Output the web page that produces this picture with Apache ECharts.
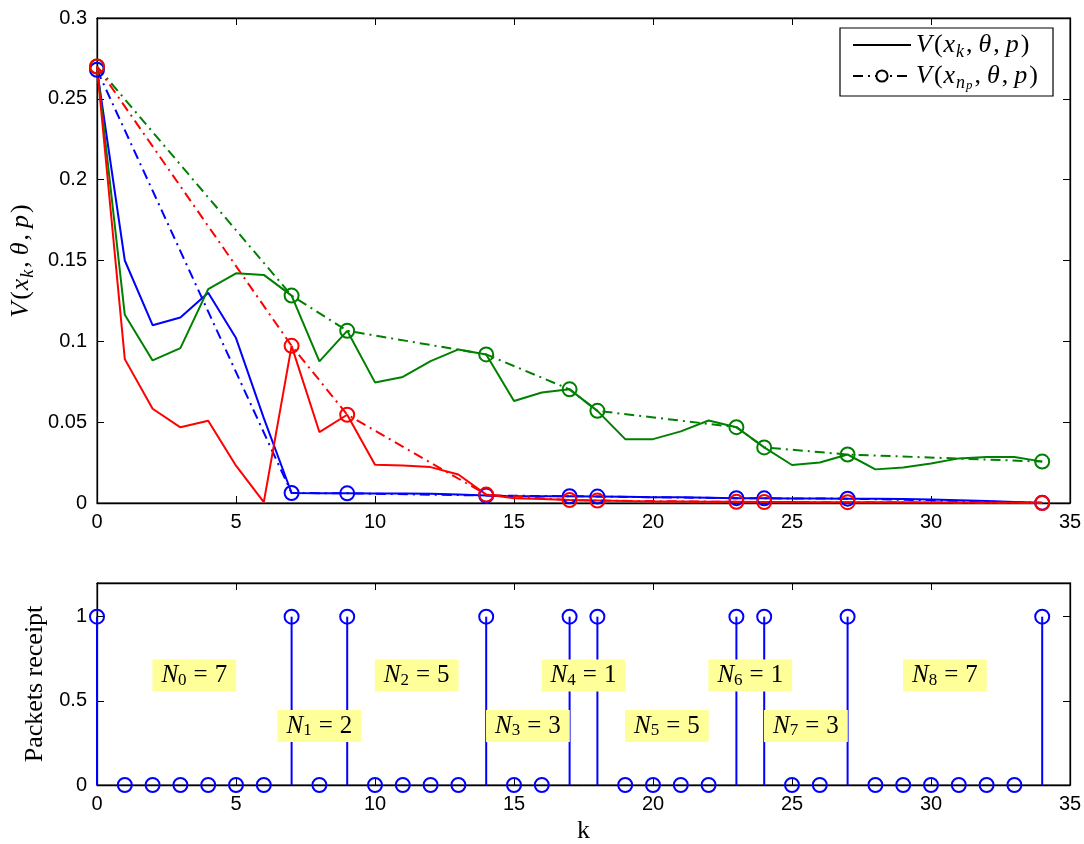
<!DOCTYPE html>
<html>
<head>
<meta charset="utf-8">
<script src="https://cdn.jsdelivr.net/npm/echarts@6/dist/echarts.min.js"></script>
<style>
  html, body { margin: 0; padding: 0; background: #fff; }
  #chart { width: 1084px; height: 844px; }
</style>
</head>
<body>
<div id="chart"></div>
<script>
// time steps k
const kSteps = [0, 1, 2, 3, 4, 5, 6, 7, 8, 9, 10, 11, 12, 13, 14, 15, 16, 17, 18, 19, 20,
  21, 22, 23, 24, 25, 26, 27, 28, 29, 30, 31, 32, 33, 34];
// steps where a packet was received
const packetTimes = [0, 7, 9, 14, 17, 18, 23, 24, 27, 34];
const packetReceipt = [1, 0, 0, 0, 0, 0, 0, 1, 0, 1, 0, 0, 0, 0, 1, 0, 0, 1, 1, 0, 0, 0, 0, 1, 1,
  0, 0, 1, 0, 0, 0, 0, 0, 0, 1];

// V(x_k, theta, p)
const blueVk = [0.268, 0.150, 0.110, 0.1147, 0.130, 0.102, 0.0525, 0.0062, 0.0061, 0.0060, 0.0059,
  0.0058, 0.0057, 0.0052, 0.0046, 0.0042, 0.0041, 0.0042, 0.0040, 0.0038, 0.0036, 0.0035, 0.0033,
  0.0030, 0.0029, 0.0028, 0.0028, 0.0027, 0.0026, 0.0025, 0.0022, 0.0017, 0.0012, 0.0006, 0.0001];
const greenVk = [0.270, 0.1164, 0.0882, 0.0958, 0.1323, 0.1421, 0.1411, 0.1283, 0.0876, 0.1065,
  0.0746, 0.0780, 0.0878, 0.0950, 0.0919, 0.0631, 0.0683, 0.0703, 0.0570, 0.0395, 0.0395, 0.0443,
  0.0510, 0.0469, 0.0344, 0.0235, 0.0250, 0.0300, 0.0208, 0.0219, 0.0245, 0.0276, 0.0284, 0.0284, 0.0256];
const redVk = [0.270, 0.089, 0.0583, 0.0468, 0.0509, 0.0231, 0.0005, 0.0972, 0.0439, 0.0546, 0.0237,
  0.0232, 0.0222, 0.0176, 0.0052, 0.0030, 0.0025, 0.0018, 0.0015, 0.0012, 0.0010, 0.0009, 0.0008,
  0.0007, 0.0006, 0.0006, 0.0005, 0.0005, 0.0004, 0.0004, 0.0003, 0.0003, 0.0002, 0.0001, 0.0];

// V(x_{n_p}, theta, p) at packet times
const blueVnp = [0.268, 0.0062, 0.0060, 0.0046, 0.0042, 0.0040, 0.0030, 0.0029, 0.0027, 0.0001];
const greenVnp = [0.270, 0.1283, 0.1065, 0.0919, 0.0703, 0.0570, 0.0469, 0.0344, 0.0300, 0.0256];
const redVnp = [0.270, 0.0972, 0.0546, 0.0052, 0.0018, 0.0015, 0.0007, 0.0006, 0.0005, 0.0];

// N_i annotations in the lower plot
const annoK = [3.5, 8, 11.5, 15.5, 17.5, 20.5, 23.5, 25.5, 30.5];
const annoY = [0.65, 0.35, 0.65, 0.35, 0.65, 0.35, 0.65, 0.35, 0.65];
const annoN = [7, 2, 5, 3, 1, 5, 1, 3, 7];

const BLUE = '#0000ff', GREEN = '#008000', RED = '#ff0000';
const serif = '"Liberation Serif", "Times New Roman", serif';
const sans = '"Liberation Sans", Arial, sans-serif';

function mathRich(size) {
  return {
    i: { fontFamily: serif, fontStyle: 'italic', fontSize: size, lineHeight: size + 6, color: '#000', padding: [0, 1, 0, 0] },
    r: { fontFamily: serif, fontSize: size, lineHeight: size + 6, color: '#000', padding: [0, 1, 0, 1] },
    c: { fontFamily: serif, fontSize: size, lineHeight: size + 6, color: '#000', padding: [0, 6, 0, 1] },
    s: { fontFamily: serif, fontStyle: 'italic', fontSize: Math.round(size * 0.68), lineHeight: 16,
      verticalAlign: 'bottom', color: '#000', padding: [0, 1, 0, 0] },
    ss: { fontFamily: serif, fontStyle: 'italic', fontSize: Math.round(size * 0.5), lineHeight: 12,
      verticalAlign: 'bottom', color: '#000', padding: [0, 1, 0, 0] }
  };
}
const V_K = '{i|V}{r|(}{i|x}{s|k}{c|,}{i|θ}{c|,}{i|p}{r|)}';
const V_NP = '{i|V}{r|(}{i|x}{s|n}{ss|p}{c|,}{i|θ}{c|,}{i|p}{r|)}';

function axis(extra) {
  return Object.assign({
    type: 'value',
    axisLine: { show: true, onZero: false, lineStyle: { color: '#000', width: 1.3 } },
    axisTick: { show: true, inside: true, length: 7, lineStyle: { color: '#000', width: 1 } },
    splitLine: { show: false },
    axisLabel: { color: '#000', fontFamily: sans, fontSize: 20, margin: 9 }
  }, extra);
}
const noLabel = { show: false };

function solidLine(name, values, color) {
  return {
    name: name, type: 'line', xAxisIndex: 0, yAxisIndex: 0,
    data: kSteps.map((k, i) => [k, values[i]]),
    symbol: 'none', lineStyle: { color: color, width: 2 }, itemStyle: { color: color }
  };
}
function dashLine(name, values, color) {
  return {
    name: name, type: 'line', xAxisIndex: 0, yAxisIndex: 0,
    data: packetTimes.map((k, i) => [k, values[i]]),
    symbol: 'circle', symbolSize: 14, showSymbol: true,
    itemStyle: { color: 'rgba(0,0,0,0)', borderColor: color, borderWidth: 2 },
    lineStyle: { color: color, width: 2, type: [10, 5, 2, 5] }
  };
}

const chart = echarts.init(document.getElementById('chart'));
chart.setOption({
  animation: false,
  backgroundColor: '#fff',
  grid: [
    { left: 97, right: 14, top: 18, height: 485, show: true, borderColor: '#000', borderWidth: 1, outerBoundsMode: 'none' },
    { left: 97, right: 14, top: 583, height: 202, show: true, borderColor: '#000', borderWidth: 1, outerBoundsMode: 'none' }
  ],
  xAxis: [
    axis({ gridIndex: 0, position: 'bottom', min: 0, max: 35, interval: 5 }),
    axis({ gridIndex: 0, position: 'top', min: 0, max: 35, interval: 5, axisLabel: noLabel }),
    axis({ gridIndex: 1, position: 'bottom', min: 0, max: 35, interval: 5,
      name: 'k', nameLocation: 'middle', nameGap: 33,
      nameTextStyle: { fontFamily: serif, fontSize: 26, color: '#000' } }),
    axis({ gridIndex: 1, position: 'top', min: 0, max: 35, interval: 5, axisLabel: noLabel })
  ],
  yAxis: [
    axis({ gridIndex: 0, position: 'left', min: 0, max: 0.3, interval: 0.05,
      axisLabel: { color: '#000', fontFamily: sans, fontSize: 20, margin: 10 },
      name: V_K, nameLocation: 'middle', nameGap: 58, nameRotate: 90,
      nameTextStyle: { rich: mathRich(26) } }),
    axis({ gridIndex: 0, position: 'right', min: 0, max: 0.3, interval: 0.05, axisLabel: noLabel }),
    axis({ gridIndex: 1, position: 'left', min: 0, max: 1.2, interval: 0.5,
      axisLabel: { color: '#000', fontFamily: sans, fontSize: 20, margin: 10,
        formatter: v => (v > 1.1 ? '' : String(v)) },
      name: 'Packets receipt', nameLocation: 'middle', nameGap: 48, nameRotate: 90,
      nameTextStyle: { fontFamily: serif, fontSize: 26, color: '#000' } }),
    axis({ gridIndex: 1, position: 'right', min: 0, max: 1.2, interval: 0.5, axisLabel: noLabel })
  ],
  legend: {
    left: 840, top: 28, orient: 'vertical',
    data: [
      { name: 'legSolid', itemStyle: { opacity: 0 } },
      { name: 'legDash' }
    ],
    backgroundColor: '#fff', borderColor: '#000', borderWidth: 1.2, borderRadius: 0,
    padding: [4, 14, 4, 12], itemGap: 2, itemWidth: 58, itemHeight: 14,
    formatter: name => (name === 'legSolid' ? V_K : V_NP),
    textStyle: { rich: mathRich(26) }
  },
  series: [
    solidLine('blueSolid', blueVk, BLUE),
    dashLine('blueDash', blueVnp, BLUE),
    solidLine('greenSolid', greenVk, GREEN),
    dashLine('greenDash', greenVnp, GREEN),
    solidLine('redSolid', redVk, RED),
    dashLine('redDash', redVnp, RED),
    // legend-only entries
    { name: 'legSolid', type: 'line', data: [], symbol: 'none', color: '#000', lineStyle: { color: '#000', width: 1.6 } },
    { name: 'legDash', type: 'line', data: [], symbol: 'emptyCircle', symbolSize: 10, color: '#000',
      itemStyle: { color: '#000', borderColor: '#000', borderWidth: 1.6 },
      lineStyle: { color: '#000', width: 1.6, type: [10, 5, 2, 5] } },
    // stems
    {
      name: 'stems', type: 'bar', xAxisIndex: 2, yAxisIndex: 2,
      data: kSteps.map((k, i) => [k, packetReceipt[i]]),
      barWidth: 2, itemStyle: { color: BLUE, opacity: 1 }, z: 2
    },
    {
      name: 'receipt', type: 'scatter', xAxisIndex: 2, yAxisIndex: 2,
      data: kSteps.map((k, i) => [k, packetReceipt[i]]),
      symbol: 'circle', symbolSize: 14,
      itemStyle: { color: 'rgba(0,0,0,0)', borderColor: BLUE, borderWidth: 2, opacity: 1 }, z: 3
    },
    {
      name: 'intervals', type: 'scatter', xAxisIndex: 2, yAxisIndex: 2,
      data: annoK.map((k, i) => [k, annoY[i]]),
      symbolSize: 0, z: 5, silent: true,
      itemStyle: { opacity: 1 },
      label: {
        show: true, position: 'inside', backgroundColor: '#ffff99', padding: [3, 9, 3, 9], opacity: 1,
        formatter: p => '{i|N}{s|' + p.dataIndex + '}{e|=}{n|' + annoN[p.dataIndex] + '}',
        rich: {
          i: { fontFamily: serif, fontStyle: 'italic', fontSize: 25, lineHeight: 26, color: '#000' },
          s: { fontFamily: serif, fontSize: 17, lineHeight: 17, verticalAlign: 'bottom', color: '#000' },
          e: { fontFamily: serif, fontSize: 25, lineHeight: 26, padding: [0, 7, 0, 7], color: '#000' },
          n: { fontFamily: serif, fontSize: 25, lineHeight: 26, color: '#000' }
        }
      }
    }
  ]
});
window.addEventListener('resize', () => chart.resize());
</script>
</body>
</html>
